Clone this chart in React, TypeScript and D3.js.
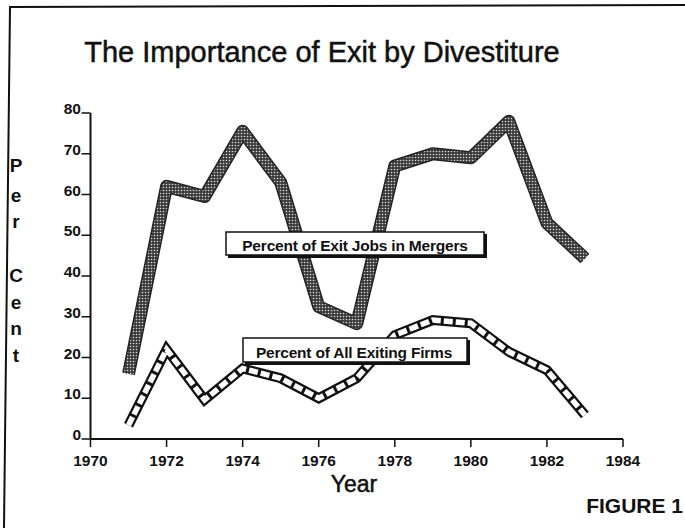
import React from 'react';
import * as d3 from 'd3';

// values
const years = [1971, 1972, 1973, 1974, 1975, 1976, 1977, 1978, 1979, 1980, 1981, 1982, 1983];
const exitJobsInMergers = [16, 62, 59.5, 75.5, 63, 32.5, 28.3, 67, 70, 69, 78, 53, 44.3];
const allExitingFirms = [3.4, 22, 9.6, 17.3, 14.9, 10, 14.9, 25.5, 29.2, 28.4, 21.4, 16.9, 5.9];
const xTicks = [1970, 1972, 1974, 1976, 1978, 1980, 1982, 1984];
const yTicks = [0, 10, 20, 30, 40, 50, 60, 70, 80];
const yLetters = ['P', 'e', 'r', '', 'C', 'e', 'n', 't'];

const W = 685;
const H = 528;
const FONT = '"Liberation Sans", Arial, Helvetica, sans-serif';

const App = () => {
  const x = d3.scaleLinear().domain([1970, 1984]).range([90.5, 623]);
  const y = d3.scaleLinear().domain([0, 80]).range([439, 113]);

  const line = d3
    .line<number>()
    .x((d, i) => x(years[i]))
    .y((d) => y(d));

  const mergersPath = line(exitJobsInMergers) || '';
  const firmsPath = line(allExitingFirms) || '';

  const letterY = [172, 202, 228, 0, 282, 309, 335, 362];

  return (
    <svg
      width={W}
      height={H}
      style={{ position: 'absolute', left: 0, top: 0, background: '#fff' }}
      fontFamily={FONT}
    >
      <defs>
        <pattern id="dots" width="3" height="3" patternUnits="userSpaceOnUse">
          <rect width="3" height="3" fill="#3c3c3c" />
          <circle cx="1.5" cy="1.5" r="0.8" fill="#d8d8d8" />
        </pattern>
      </defs>

      {/* frame of the scanned page */}
      <path d="M4,528 L10,7 L685,5" fill="none" stroke="#111" strokeWidth={2} />

      {/* title */}
      <text x={322} y={62} textAnchor="middle" fontSize={29} fill="#111" stroke="#111" strokeWidth={0.5}>
        The Importance of Exit by Divestiture
      </text>

      {/* Per Cent, stacked letters */}
      {yLetters.map((c, i) =>
        c ? (
          <text key={i} x={16} y={letterY[i]} textAnchor="middle" fontSize={19} fontWeight="bold" fill="#111">
            {c}
          </text>
        ) : null
      )}

      {/* y axis */}
      <line x1={x(1970)} x2={x(1970)} y1={y(80)} y2={y(0)} stroke="#111" strokeWidth={2} />
      {yTicks.map((t) => (
        <g key={t}>
          <line x1={x(1970) - 9} x2={x(1970)} y1={y(t)} y2={y(t)} stroke="#111" strokeWidth={1.5} />
          <text x={81} y={y(t) + 1} textAnchor="end" fontSize={15.5} fontWeight="bold" fill="#111">
            {t}
          </text>
        </g>
      ))}

      {/* x axis */}
      <line x1={x(1970)} x2={x(1984)} y1={y(0)} y2={y(0)} stroke="#111" strokeWidth={2} />
      {xTicks.map((t) => (
        <g key={t}>
          <line x1={x(t)} x2={x(t)} y1={y(0)} y2={y(0) + 8} stroke="#111" strokeWidth={1.5} />
          <text x={x(t)} y={466} textAnchor="middle" fontSize={15.5} fontWeight="bold" fill="#111">
            {t}
          </text>
        </g>
      ))}
      <text x={354} y={492} textAnchor="middle" fontSize={23} fill="#111" stroke="#111" strokeWidth={0.5}>
        Year
      </text>
      <text x={683} y={513} textAnchor="end" fontSize={21} fontWeight="bold" fill="#111">
        FIGURE 1
      </text>

      {/* mergers series: thick stippled band */}
      <path d={mergersPath} fill="none" stroke="#222" strokeWidth={13} strokeLinejoin="round" strokeLinecap="butt" />
      <path d={mergersPath} fill="none" stroke="url(#dots)" strokeWidth={10} strokeLinejoin="round" strokeLinecap="butt" />

      {/* all exiting firms series: outlined ladder */}
      <path d={firmsPath} fill="none" stroke="#111" strokeWidth={10} strokeLinejoin="miter" />
      <path
        d={firmsPath}
        fill="none"
        stroke="#fff"
        strokeWidth={5.5}
        strokeLinejoin="miter"
        strokeDasharray="9 3"
      />

      {/* labels */}
      <rect x={228} y={234} width={259} height={24} fill="#111" />
      <rect x={226} y={232} width={258} height={23} fill="#fff" stroke="#111" strokeWidth={1.5} />
      <text x={355} y={250.5} textAnchor="middle" fontSize={15.5} fontWeight="bold" fill="#111" letterSpacing={-0.2}>
        Percent of Exit Jobs in Mergers
      </text>

      <rect x={245} y={340} width={225} height={25} fill="#111" />
      <rect x={243} y={338} width={224} height={24} fill="#fff" stroke="#111" strokeWidth={1.5} />
      <text x={354} y={357.5} textAnchor="middle" fontSize={15.5} fontWeight="bold" fill="#111" letterSpacing={-0.2}>
        Percent of All Exiting Firms
      </text>
    </svg>
  );
};

export default App;
